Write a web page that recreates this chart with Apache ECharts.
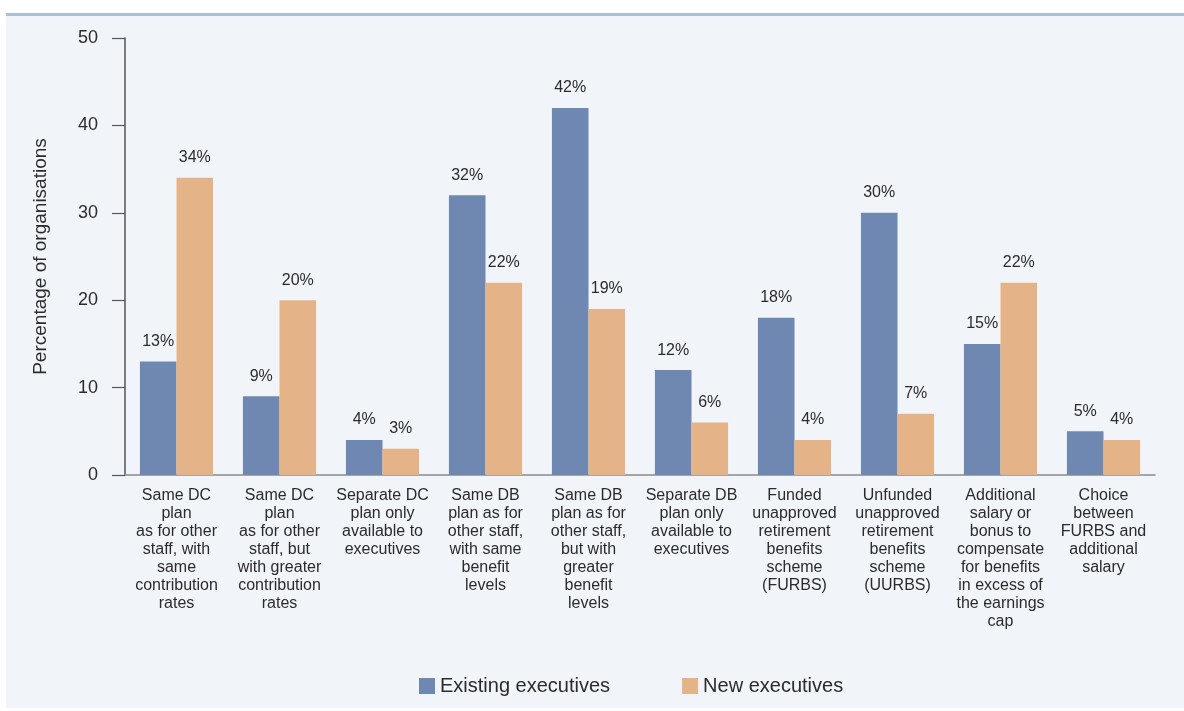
<!DOCTYPE html>
<html>
<head>
<meta charset="utf-8">
<script src="https://cdn.jsdelivr.net/npm/echarts@6/dist/echarts.min.js"></script>
<style>
  html, body { margin: 0; padding: 0; background: #ffffff; }
  #chart { width: 1184px; height: 711px; }
</style>
</head>
<body>
<div id="chart"></div>
<script>
// Pension arrangements offered to executives
const categories = [
  'Same DC\nplan\nas for other\nstaff, with\nsame\ncontribution\nrates',
  'Same DC\nplan\nas for other\nstaff, but\nwith greater\ncontribution\nrates',
  'Separate DC\nplan only\navailable to\nexecutives',
  'Same DB\nplan as for\nother staff,\nwith same\nbenefit\nlevels',
  'Same DB\nplan as for\nother staff,\nbut with\ngreater\nbenefit\nlevels',
  'Separate DB\nplan only\navailable to\nexecutives',
  'Funded\nunapproved\nretirement\nbenefits\nscheme\n(FURBS)',
  'Unfunded\nunapproved\nretirement\nbenefits\nscheme\n(UURBS)',
  'Additional\nsalary or\nbonus to\ncompensate\nfor benefits\nin excess of\nthe earnings\ncap',
  'Choice\nbetween\nFURBS and\nadditional\nsalary'
];
const existingExecutives = [13, 9, 4, 32, 42, 12, 18, 30, 15, 5];
const newExecutives = [34, 20, 3, 22, 19, 6, 4, 7, 22, 4];
const seriesNames = ['Existing executives', 'New executives'];

const fontFamily = '"Liberation Sans", Arial, Helvetica, sans-serif';
const textColor = '#2b2b2b';

const chart = echarts.init(document.getElementById('chart'));

const barLabel = {
  show: true,
  position: 'top',
  distance: 12,
  formatter: '{c}%',
  color: textColor,
  fontSize: 16,
  fontFamily: fontFamily
};

chart.setOption({
  backgroundColor: '#ffffff',
  animation: false,
  graphic: [
    { type: 'rect', z: -10, shape: { x: 6, y: 13, width: 1178, height: 695 }, style: { fill: '#f1f4f9' } },
    { type: 'rect', z: -9, shape: { x: 6, y: 13, width: 1178, height: 3 }, style: { fill: '#a9bfda' } }
  ],
  grid: { left: 125, right: 29, top: 38, bottom: 236, containLabel: false },
  legend: {
    left: 414,
    top: 671,
    itemWidth: 16,
    itemHeight: 16,
    itemGap: 72,
    icon: 'rect',
    textStyle: { color: textColor, fontSize: 20, fontFamily: fontFamily },
    data: seriesNames
  },
  xAxis: {
    type: 'category',
    data: categories,
    axisLine: { show: true, lineStyle: { color: '#8a8a8a', width: 1.5 } },
    axisTick: { show: false },
    axisLabel: {
      interval: 0,
      margin: 12,
      color: textColor,
      fontSize: 16,
      lineHeight: 18,
      fontFamily: fontFamily,
      align: 'center'
    }
  },
  yAxis: {
    type: 'value',
    min: 0,
    max: 50,
    interval: 10,
    name: 'Percentage of organisations',
    nameLocation: 'middle',
    nameRotate: 90,
    nameGap: 75,
    nameTextStyle: { color: textColor, fontSize: 19, fontFamily: fontFamily },
    splitLine: { show: false },
    axisLine: { show: true, lineStyle: { color: '#555555', width: 1.5 } },
    axisTick: { show: true, inside: false, length: 13, lineStyle: { color: '#555555', width: 1.2 } },
    axisLabel: { color: textColor, fontSize: 18, fontFamily: fontFamily, margin: 27 }
  },
  series: [
    {
      name: seriesNames[0],
      type: 'bar',
      data: existingExecutives,
      barGap: '0%',
      barCategoryGap: '29%',
      itemStyle: { color: '#6f88b1' },
      label: barLabel
    },
    {
      name: seriesNames[1],
      type: 'bar',
      data: newExecutives,
      itemStyle: { color: '#e5b388' },
      label: barLabel
    }
  ]
});
</script>
</body>
</html>
